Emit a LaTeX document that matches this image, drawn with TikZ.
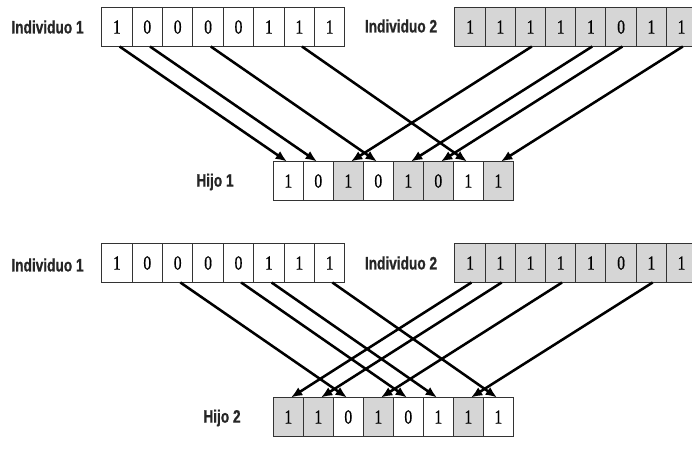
\documentclass[tikz,border=0pt]{standalone}
\usepackage{fontspec}
\setmainfont{Liberation Serif}
\newfontfamily\lblfont[FakeStretch=0.76,FakeBold=0.8]{Liberation Sans}
\newfontfamily\digfont[FakeStretch=0.78,FakeBold=0.6]{Liberation Serif}
\usetikzlibrary{arrows.meta}
\tikzset{
  cellw/.style={draw=black!80, line width=0.8pt, fill=white, minimum width=22.8pt,
    minimum height=29.25pt, inner sep=0pt, outer sep=0pt,
    font=\digfont\fontsize{15}{15}\selectfont},
  cellg/.style={cellw, fill=black!16},
  lbl/.style={font=\lblfont\bfseries\fontsize{13.5}{13.5}\selectfont, text=black!85, inner sep=0pt},
  xarrow/.style={line width=1.9pt, -{Latex[length=8.5pt,width=7pt]}}
}
\begin{document}
\begin{tikzpicture}[x=0.75pt,y=-0.75pt]
\useasboundingbox[fill=white] (0,0) rectangle (692,461);
% ---------- Section 1 ----------
\node[lbl] (l1) at (47.5,27) {Individuo 1};
\node[lbl] (l2) at (401,26) {Individuo 2};
\node[lbl] (l3) at (215,182) {Hijo 1};
\foreach \v [count=\k] in {1,0,0,0,0,1,1,1}
  \node[cellw] (a\k) at ({101.7+30.4*(\k-0.5)},27) {\v};
\foreach \v [count=\k] in {1,1,1,1,1,0,1,1}
  \node[cellg] (b\k) at ({455+30.2*(\k-0.5)},27) {\v};
\foreach \v/\s [count=\k] in {1/cellw,0/cellw,1/cellg,0/cellw,1/cellg,0/cellg,1/cellw,1/cellg}
  \node[\s] (h\k) at ({273.3+30*(\k-0.5)},181) {\v};
\foreach \i in {1,2,4,7}
  \draw[xarrow] ([xshift=2pt]a\i.south) -- ([xshift=-1pt]h\i.north);
\foreach \i in {3,5,6,8}
  \draw[xarrow] ([xshift=1pt]b\i.south) -- ([xshift=2pt]h\i.north);
% ---------- Section 2 ----------
\node[lbl] (l4) at (47.5,265) {Individuo 1};
\node[lbl] (l5) at (401,263) {Individuo 2};
\node[lbl] (l6) at (222,418) {Hijo 2};
\foreach \v [count=\k] in {1,0,0,0,0,1,1,1}
  \node[cellw] (c\k) at ({101.7+30.4*(\k-0.5)},263) {\v};
\foreach \v [count=\k] in {1,1,1,1,1,0,1,1}
  \node[cellg] (d\k) at ({455+30.2*(\k-0.5)},263) {\v};
\foreach \v/\s [count=\k] in {1/cellg,1/cellg,0/cellw,1/cellg,0/cellw,1/cellw,1/cellg,1/cellw}
  \node[\s] (k\k) at ({273.3+30*(\k-0.5)},417) {\v};
\foreach \i in {3,5,6,8}
  \draw[xarrow] ([xshift=2pt]c\i.south) -- ([xshift=-1pt]k\i.north);
\foreach \i in {1,2,4,7}
  \draw[xarrow] ([xshift=1pt]d\i.south) -- ([xshift=2pt]k\i.north);
\end{tikzpicture}
\end{document}
